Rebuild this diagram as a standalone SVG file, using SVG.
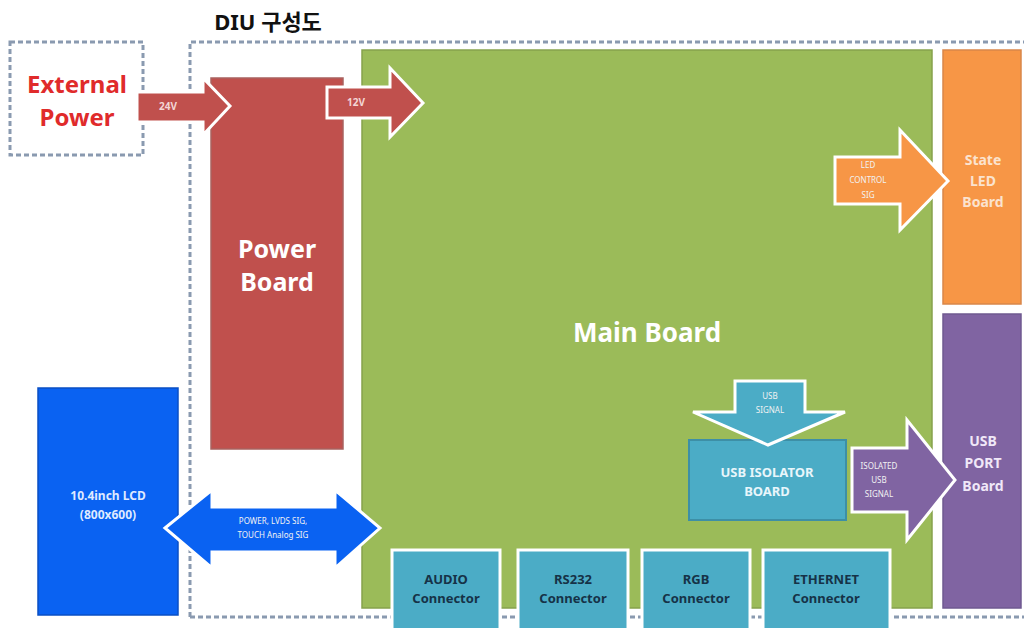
<svg xmlns="http://www.w3.org/2000/svg" width="1026" height="628" viewBox="0 0 1026 628">
  <style>
    .lbl { font-family: "Noto Sans", "Open Sans", "Noto Sans CJK KR", sans-serif; font-weight: bold; text-anchor: middle; }
    .dash { fill: none; stroke: #8a9ab0; stroke-width: 3; stroke-dasharray: 5 3; }
    .arrow { stroke: #ffffff; stroke-width: 3; stroke-linejoin: miter; }
    .conn { fill: #4bacc6; stroke: #ffffff; stroke-width: 3; }
    .conntxt { fill: #163247; font-size: 13px; }
    .tiny { fill: #f2f2f2; font-size: 8px; font-weight: normal; }
  </style>

  <rect width="1026" height="628" fill="#ffffff"/>

  <!-- title -->
  <text class="lbl" x="268" y="30" font-size="22" fill="#111111" font-family="'Noto Sans CJK KR', sans-serif" font-weight="900">DIU 구성도</text>

  <!-- enclosure outlines -->
  <g id="external-power">
    <rect class="dash" x="10" y="42" width="133" height="113"/>
    <text class="lbl" x="77" y="93" font-size="24" fill="#e02b2b">External</text>
    <text class="lbl" x="77" y="126" font-size="24" fill="#e02b2b">Power</text>
  </g>
  <g id="diu-enclosure">
    <path class="dash" d="M190,617 V42 H1024"/>
    <path class="dash" d="M190,617 H1024"/>
  </g>

  <g id="main-board">
    <rect x="362" y="50" width="570" height="558" fill="#9bbb59" stroke="#86a24c" stroke-width="1.5"/>
    <text class="lbl" x="647" y="342" font-size="26" fill="#ffffff">Main Board</text>
  </g>

  <g id="power-board">
    <rect x="211" y="78" width="132" height="371" fill="#c0504d" stroke="#a9625f" stroke-width="1.5"/>
    <text class="lbl" x="277" y="258" font-size="25" fill="#ffffff">Power</text>
    <text class="lbl" x="277" y="291" font-size="25" fill="#ffffff">Board</text>
  </g>

  <g id="state-led-board">
    <rect x="943" y="50" width="78" height="254" fill="#f79646" stroke="#d9874a" stroke-width="1.5"/>
    <text class="lbl" x="983" y="165" font-size="14" fill="#fbe3cf">State</text>
    <text class="lbl" x="983" y="186" font-size="14" fill="#fbe3cf">LED</text>
    <text class="lbl" x="983" y="207" font-size="14" fill="#fbe3cf">Board</text>
  </g>

  <g id="usb-port-board">
    <rect x="943" y="314" width="78" height="294" fill="#8064a2" stroke="#6f5990" stroke-width="1.5"/>
    <text class="lbl" x="983" y="446" font-size="14" fill="#f0e8f8">USB</text>
    <text class="lbl" x="983" y="468" font-size="14" fill="#f0e8f8">PORT</text>
    <text class="lbl" x="983" y="491" font-size="14" fill="#f0e8f8">Board</text>
  </g>

  <g id="lcd">
    <rect x="38" y="388" width="140" height="227" fill="#0a62f2" stroke="#0a4fc4" stroke-width="1.5"/>
    <text class="lbl" x="108" y="500" font-size="12" fill="#dfeaff">10.4inch LCD</text>
    <text class="lbl" x="108" y="519" font-size="12" fill="#dfeaff">(800x600)</text>
  </g>

  <g id="usb-isolator-board">
    <rect x="689" y="440" width="157" height="80" fill="#4bacc6" stroke="#3d8fa6" stroke-width="2"/>
    <text class="lbl" x="767" y="477" font-size="13" fill="#e8f6fb">USB ISOLATOR</text>
    <text class="lbl" x="767" y="496" font-size="13" fill="#e8f6fb">BOARD</text>
  </g>

  <g id="audio-connector">
    <rect class="conn" x="392" y="550" width="108" height="80"/>
    <text class="lbl conntxt" x="446" y="584">AUDIO</text>
    <text class="lbl conntxt" x="446" y="603">Connector</text>
  </g>
  <g id="rs232-connector">
    <rect class="conn" x="518" y="550" width="110" height="80"/>
    <text class="lbl conntxt" x="573" y="584">RS232</text>
    <text class="lbl conntxt" x="573" y="603">Connector</text>
  </g>
  <g id="rgb-connector">
    <rect class="conn" x="642" y="550" width="108" height="80"/>
    <text class="lbl conntxt" x="696" y="584">RGB</text>
    <text class="lbl conntxt" x="696" y="603">Connector</text>
  </g>
  <g id="ethernet-connector">
    <rect class="conn" x="763" y="550" width="127" height="80"/>
    <text class="lbl conntxt" x="826" y="584">ETHERNET</text>
    <text class="lbl conntxt" x="826" y="603">Connector</text>
  </g>

  <!-- block arrows between boards -->
  <g id="connectors">
    <path class="arrow" fill="#c0504d" d="M137,92 H203 V78 L230,106 L203,135 V122 H137 Z"/>
    <text class="lbl" x="168" y="110" font-size="10" fill="#f3d6d5" font-weight="normal">24V</text>

    <path class="arrow" fill="#c0504d" d="M327,87 H390 V68 L423,103 L390,137 V118 H327 Z"/>
    <text class="lbl" x="356" y="106" font-size="10" fill="#f3d6d5" font-weight="normal">12V</text>

    <path class="arrow" fill="#f79646" stroke="#fdf1d8" d="M835,157 H900 V130 L948,181 L900,230 V204 H835 Z"/>
    <text class="lbl tiny" x="868" y="168">LED</text>
    <text class="lbl tiny" x="868" y="183">CONTROL</text>
    <text class="lbl tiny" x="868" y="198">SIG</text>

    <path class="arrow" fill="#4bacc6" d="M735,381 H805 V412 H845 L768,445 L693,412 H735 Z"/>
    <text class="lbl tiny" x="770" y="399">USB</text>
    <text class="lbl tiny" x="770" y="413">SIGNAL</text>

    <path class="arrow" fill="#8064a2" d="M852,448 H907 V420 L955,480 L907,540 V512 H852 Z"/>
    <text class="lbl tiny" x="879" y="469">ISOLATED</text>
    <text class="lbl tiny" x="879" y="483">USB</text>
    <text class="lbl tiny" x="879" y="497">SIGNAL</text>

    <path class="arrow" fill="#0a62f2" d="M165,528 L212,490 V507 H335 V490 L380,528 L335,568 V552 H212 V568 Z"/>
    <text class="lbl tiny" x="273" y="524" fill="#cfe0ff">POWER, LVDS SIG,</text>
    <text class="lbl tiny" x="273" y="538" fill="#cfe0ff">TOUCH Analog SIG</text>
  </g>
</svg>
